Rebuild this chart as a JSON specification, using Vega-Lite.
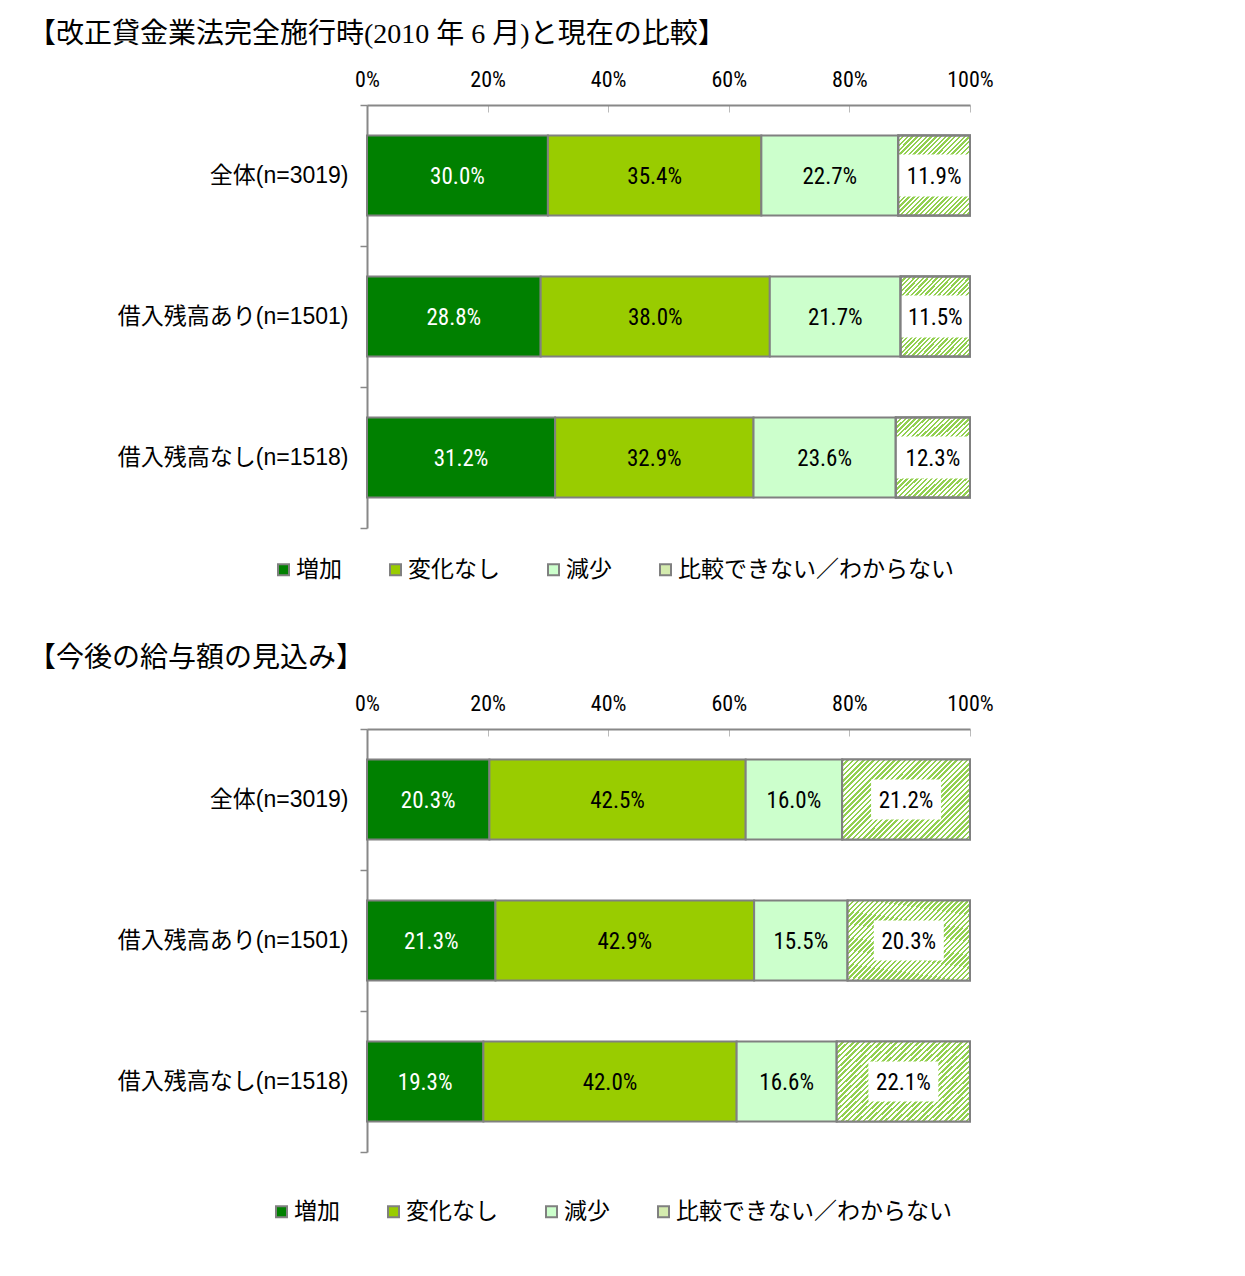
{
"$schema": "https://vega.github.io/schema/vega-lite/v6.json",
"padding": {"left": 28, "top": 21, "right": 10, "bottom": 10},
"background": "white",
"spacing": 63,
"config": {"view": {"stroke": null}, "axis": {"grid": false, "title": null}},
"resolve": {"scale": {"color": "independent"}, "legend": {"color": "independent"}},
"data": {"values": [
{"p":"A","g":"全体(n=3019)","cat":"増加","k":1,"v":30.0},
{"p":"A","g":"全体(n=3019)","cat":"変化なし","k":2,"v":35.4},
{"p":"A","g":"全体(n=3019)","cat":"減少","k":3,"v":22.7},
{"p":"A","g":"全体(n=3019)","cat":"比較できない／わからない","k":4,"v":11.9},
{"p":"A","g":"借入残高あり(n=1501)","cat":"増加","k":1,"v":28.8},
{"p":"A","g":"借入残高あり(n=1501)","cat":"変化なし","k":2,"v":38.0},
{"p":"A","g":"借入残高あり(n=1501)","cat":"減少","k":3,"v":21.7},
{"p":"A","g":"借入残高あり(n=1501)","cat":"比較できない／わからない","k":4,"v":11.5},
{"p":"A","g":"借入残高なし(n=1518)","cat":"増加","k":1,"v":31.2},
{"p":"A","g":"借入残高なし(n=1518)","cat":"変化なし","k":2,"v":32.9},
{"p":"A","g":"借入残高なし(n=1518)","cat":"減少","k":3,"v":23.6},
{"p":"A","g":"借入残高なし(n=1518)","cat":"比較できない／わからない","k":4,"v":12.3},
{"p":"B","g":"全体(n=3019)","cat":"増加","k":1,"v":20.3},
{"p":"B","g":"全体(n=3019)","cat":"変化なし","k":2,"v":42.5},
{"p":"B","g":"全体(n=3019)","cat":"減少","k":3,"v":16.0},
{"p":"B","g":"全体(n=3019)","cat":"比較できない／わからない","k":4,"v":21.2},
{"p":"B","g":"借入残高あり(n=1501)","cat":"増加","k":1,"v":21.3},
{"p":"B","g":"借入残高あり(n=1501)","cat":"変化なし","k":2,"v":42.9},
{"p":"B","g":"借入残高あり(n=1501)","cat":"減少","k":3,"v":15.5},
{"p":"B","g":"借入残高あり(n=1501)","cat":"比較できない／わからない","k":4,"v":20.3},
{"p":"B","g":"借入残高なし(n=1518)","cat":"増加","k":1,"v":19.3},
{"p":"B","g":"借入残高なし(n=1518)","cat":"変化なし","k":2,"v":42.0},
{"p":"B","g":"借入残高なし(n=1518)","cat":"減少","k":3,"v":16.6},
{"p":"B","g":"借入残高なし(n=1518)","cat":"比較できない／わからない","k":4,"v":22.1}
]},
"vconcat": [
{
"title": {"text": "【改正貸金業法完全施行時(2010 年 6 月)と現在の比較】", "anchor": "start", "frame": "group", "dx": -339, "offset": -9, "baseline": "bottom", "font": "Liberation Serif, Noto Sans CJK JP", "fontSize": 28, "fontWeight": "normal", "color": "black"},
"width": 603, "height": 423,
"transform": [
{"filter": "datum.p == 'A'"},
{"stack": "v", "groupby": ["g"], "sort": [{"field": "k", "order": "ascending"}], "as": ["v0", "v1"]},
{"calculate": "(datum.v0 + datum.v1) / 2", "as": "mid"},
{"calculate": "format(datum.v, '.1f') + '%'", "as": "lbl"}
],
"encoding": {"y": {"field": "g", "type": "nominal", "sort": ["全体(n=3019)", "借入残高あり(n=1501)", "借入残高なし(n=1518)"], "scale": {"paddingInner": 0, "paddingOuter": 0},
 "axis": {"title": null, "tickBand": "extent", "tickSize": 7, "tickColor": "#888888", "tickWidth": 1.5, "domainColor": "#888888", "domainWidth": 2, "labelFont": "Liberation Sans, Noto Sans CJK JP", "labelFontSize": 23, "labelColor": "black", "labelPadding": 12, "labelLimit": 400}}},
"layer": [
{"mark": {"type": "bar", "stroke": "#808080", "strokeWidth": 2, "height": {"band": 0.567}},
 "encoding": {
  "x": {"field": "v0", "type": "quantitative", "scale": {"domain": [0, 100], "nice": false},
   "axis": {"orient": "top", "title": null, "values": [0, 20, 40, 60, 80, 100], "labelExpr": "datum.value + '%'", "tickSize": -7, "tickColor": "#bbbbbb", "domainColor": "#888888", "domainWidth": 2, "labelPadding": 21, "labelFont": "Roboto Condensed, Liberation Sans", "labelFontSize": 22, "labelColor": "black", "labelFlush": false}},
  "x2": {"field": "v1"},
  "color": {"field": "cat", "type": "nominal", "scale": {"domain": ["増加", "変化なし", "減少", "比較できない／わからない"], "range": ["#008000", "#99cc00", "#ccffcc", "#d4ebae"]},
   "legend": {"orient": "none", "legendX": -95, "legendY": 453, "direction": "horizontal", "title": null, "symbolType": "square", "symbolSize": 121, "symbolStrokeColor": "#808080", "symbolStrokeWidth": 2, "symbolOpacity": 1, "labelFont": "Liberation Sans, Noto Sans CJK JP", "labelFontSize": 23, "labelColor": "black", "labelOffset": 1, "columnPadding": 42, "padding": 0, "labelLimit": 400}}
 }},
{"transform": [{"filter": "datum.k == 4"}],
 "mark": {"type": "bar", "stroke": "#808080", "strokeWidth": 2, "height": {"band": 0.567}, "fill": {"gradient": "linear", "x1": 0, "y1": 0, "x2": 0.945, "y2": 1.05, "stops": [
{"offset":0,"color":"#92d050"},{"offset":0.015625,"color":"#92d050"},{"offset":0.015625,"color":"#fff"},{"offset":0.03125,"color":"#fff"},
{"offset":0.03125,"color":"#92d050"},{"offset":0.046875,"color":"#92d050"},{"offset":0.046875,"color":"#fff"},{"offset":0.0625,"color":"#fff"},
{"offset":0.0625,"color":"#92d050"},{"offset":0.078125,"color":"#92d050"},{"offset":0.078125,"color":"#fff"},{"offset":0.09375,"color":"#fff"},
{"offset":0.09375,"color":"#92d050"},{"offset":0.109375,"color":"#92d050"},{"offset":0.109375,"color":"#fff"},{"offset":0.125,"color":"#fff"},
{"offset":0.125,"color":"#92d050"},{"offset":0.140625,"color":"#92d050"},{"offset":0.140625,"color":"#fff"},{"offset":0.15625,"color":"#fff"},
{"offset":0.15625,"color":"#92d050"},{"offset":0.171875,"color":"#92d050"},{"offset":0.171875,"color":"#fff"},{"offset":0.1875,"color":"#fff"},
{"offset":0.1875,"color":"#92d050"},{"offset":0.203125,"color":"#92d050"},{"offset":0.203125,"color":"#fff"},{"offset":0.21875,"color":"#fff"},
{"offset":0.21875,"color":"#92d050"},{"offset":0.234375,"color":"#92d050"},{"offset":0.234375,"color":"#fff"},{"offset":0.25,"color":"#fff"},
{"offset":0.25,"color":"#92d050"},{"offset":0.265625,"color":"#92d050"},{"offset":0.265625,"color":"#fff"},{"offset":0.28125,"color":"#fff"},
{"offset":0.28125,"color":"#92d050"},{"offset":0.296875,"color":"#92d050"},{"offset":0.296875,"color":"#fff"},{"offset":0.3125,"color":"#fff"},
{"offset":0.3125,"color":"#92d050"},{"offset":0.328125,"color":"#92d050"},{"offset":0.328125,"color":"#fff"},{"offset":0.34375,"color":"#fff"},
{"offset":0.34375,"color":"#92d050"},{"offset":0.359375,"color":"#92d050"},{"offset":0.359375,"color":"#fff"},{"offset":0.375,"color":"#fff"},
{"offset":0.375,"color":"#92d050"},{"offset":0.390625,"color":"#92d050"},{"offset":0.390625,"color":"#fff"},{"offset":0.40625,"color":"#fff"},
{"offset":0.40625,"color":"#92d050"},{"offset":0.421875,"color":"#92d050"},{"offset":0.421875,"color":"#fff"},{"offset":0.4375,"color":"#fff"},
{"offset":0.4375,"color":"#92d050"},{"offset":0.453125,"color":"#92d050"},{"offset":0.453125,"color":"#fff"},{"offset":0.46875,"color":"#fff"},
{"offset":0.46875,"color":"#92d050"},{"offset":0.484375,"color":"#92d050"},{"offset":0.484375,"color":"#fff"},{"offset":0.5,"color":"#fff"},
{"offset":0.5,"color":"#92d050"},{"offset":0.515625,"color":"#92d050"},{"offset":0.515625,"color":"#fff"},{"offset":0.53125,"color":"#fff"},
{"offset":0.53125,"color":"#92d050"},{"offset":0.546875,"color":"#92d050"},{"offset":0.546875,"color":"#fff"},{"offset":0.5625,"color":"#fff"},
{"offset":0.5625,"color":"#92d050"},{"offset":0.578125,"color":"#92d050"},{"offset":0.578125,"color":"#fff"},{"offset":0.59375,"color":"#fff"},
{"offset":0.59375,"color":"#92d050"},{"offset":0.609375,"color":"#92d050"},{"offset":0.609375,"color":"#fff"},{"offset":0.625,"color":"#fff"},
{"offset":0.625,"color":"#92d050"},{"offset":0.640625,"color":"#92d050"},{"offset":0.640625,"color":"#fff"},{"offset":0.65625,"color":"#fff"},
{"offset":0.65625,"color":"#92d050"},{"offset":0.671875,"color":"#92d050"},{"offset":0.671875,"color":"#fff"},{"offset":0.6875,"color":"#fff"},
{"offset":0.6875,"color":"#92d050"},{"offset":0.703125,"color":"#92d050"},{"offset":0.703125,"color":"#fff"},{"offset":0.71875,"color":"#fff"},
{"offset":0.71875,"color":"#92d050"},{"offset":0.734375,"color":"#92d050"},{"offset":0.734375,"color":"#fff"},{"offset":0.75,"color":"#fff"},
{"offset":0.75,"color":"#92d050"},{"offset":0.765625,"color":"#92d050"},{"offset":0.765625,"color":"#fff"},{"offset":0.78125,"color":"#fff"},
{"offset":0.78125,"color":"#92d050"},{"offset":0.796875,"color":"#92d050"},{"offset":0.796875,"color":"#fff"},{"offset":0.8125,"color":"#fff"},
{"offset":0.8125,"color":"#92d050"},{"offset":0.828125,"color":"#92d050"},{"offset":0.828125,"color":"#fff"},{"offset":0.84375,"color":"#fff"},
{"offset":0.84375,"color":"#92d050"},{"offset":0.859375,"color":"#92d050"},{"offset":0.859375,"color":"#fff"},{"offset":0.875,"color":"#fff"},
{"offset":0.875,"color":"#92d050"},{"offset":0.890625,"color":"#92d050"},{"offset":0.890625,"color":"#fff"},{"offset":0.90625,"color":"#fff"},
{"offset":0.90625,"color":"#92d050"},{"offset":0.921875,"color":"#92d050"},{"offset":0.921875,"color":"#fff"},{"offset":0.9375,"color":"#fff"},
{"offset":0.9375,"color":"#92d050"},{"offset":0.953125,"color":"#92d050"},{"offset":0.953125,"color":"#fff"},{"offset":0.96875,"color":"#fff"},
{"offset":0.96875,"color":"#92d050"},{"offset":0.984375,"color":"#92d050"},{"offset":0.984375,"color":"#fff"},{"offset":1,"color":"#fff"}
]}},
 "encoding": {"x": {"field": "v0", "type": "quantitative", "axis": {"orient": "top", "title": null, "values": [0, 20, 40, 60, 80, 100], "labelExpr": "datum.value + '%'", "tickSize": -7, "tickColor": "#bbbbbb", "domainColor": "#888888", "domainWidth": 2, "labelPadding": 21, "labelFont": "Roboto Condensed, Liberation Sans", "labelFontSize": 22, "labelColor": "black", "labelFlush": false}}, "x2": {"field": "v1"}}},
{"transform": [{"filter": "datum.k == 4"}],
 "mark": {"type": "bar", "fill": "white", "strokeWidth": 0, "height": {"band": 0.298}},
 "encoding": {"x": {"field": "v0", "type": "quantitative", "axis": {"orient": "top", "title": null, "values": [0, 20, 40, 60, 80, 100], "labelExpr": "datum.value + '%'", "tickSize": -7, "tickColor": "#bbbbbb", "domainColor": "#888888", "domainWidth": 2, "labelPadding": 21, "labelFont": "Roboto Condensed, Liberation Sans", "labelFontSize": 22, "labelColor": "black", "labelFlush": false}}, "x2": {"field": "v1"}}},
{"transform": [{"filter": "datum.k == 4"}],
 "mark": {"type": "bar", "fill": "white", "fillOpacity": 0, "stroke": "#808080", "strokeWidth": 2, "height": {"band": 0.567}},
 "encoding": {"x": {"field": "v0", "type": "quantitative", "axis": {"orient": "top", "title": null, "values": [0, 20, 40, 60, 80, 100], "labelExpr": "datum.value + '%'", "tickSize": -7, "tickColor": "#bbbbbb", "domainColor": "#888888", "domainWidth": 2, "labelPadding": 21, "labelFont": "Roboto Condensed, Liberation Sans", "labelFontSize": 22, "labelColor": "black", "labelFlush": false}}, "x2": {"field": "v1"}}},
{"mark": {"type": "text", "font": "Roboto Condensed, Liberation Sans", "fontSize": 23, "align": "center", "baseline": "middle", "dy": 1},
 "encoding": {"x": {"field": "mid", "type": "quantitative", "axis": {"orient": "top", "title": null, "values": [0, 20, 40, 60, 80, 100], "labelExpr": "datum.value + '%'", "tickSize": -7, "tickColor": "#bbbbbb", "domainColor": "#888888", "domainWidth": 2, "labelPadding": 21, "labelFont": "Roboto Condensed, Liberation Sans", "labelFontSize": 22, "labelColor": "black", "labelFlush": false}}, "text": {"field": "lbl"},
  "color": {"condition": {"test": "datum.k == 1", "value": "white"}, "value": "black"}}}
]
},
{
"title": {"text": "【今後の給与額の見込み】", "anchor": "start", "frame": "group", "dx": -339, "offset": -9, "baseline": "bottom", "font": "Liberation Serif, Noto Sans CJK JP", "fontSize": 28, "fontWeight": "normal", "color": "black"},
"width": 603, "height": 423,
"transform": [
{"filter": "datum.p == 'B'"},
{"stack": "v", "groupby": ["g"], "sort": [{"field": "k", "order": "ascending"}], "as": ["v0", "v1"]},
{"calculate": "(datum.v0 + datum.v1) / 2", "as": "mid"},
{"calculate": "format(datum.v, '.1f') + '%'", "as": "lbl"}
],
"encoding": {"y": {"field": "g", "type": "nominal", "sort": ["全体(n=3019)", "借入残高あり(n=1501)", "借入残高なし(n=1518)"], "scale": {"paddingInner": 0, "paddingOuter": 0},
 "axis": {"title": null, "tickBand": "extent", "tickSize": 7, "tickColor": "#888888", "tickWidth": 1.5, "domainColor": "#888888", "domainWidth": 2, "labelFont": "Liberation Sans, Noto Sans CJK JP", "labelFontSize": 23, "labelColor": "black", "labelPadding": 12, "labelLimit": 400}}},
"layer": [
{"mark": {"type": "bar", "stroke": "#808080", "strokeWidth": 2, "height": {"band": 0.567}},
 "encoding": {
  "x": {"field": "v0", "type": "quantitative", "scale": {"domain": [0, 100], "nice": false},
   "axis": {"orient": "top", "title": null, "values": [0, 20, 40, 60, 80, 100], "labelExpr": "datum.value + '%'", "tickSize": -7, "tickColor": "#bbbbbb", "domainColor": "#888888", "domainWidth": 2, "labelPadding": 21, "labelFont": "Roboto Condensed, Liberation Sans", "labelFontSize": 22, "labelColor": "black", "labelFlush": false}},
  "x2": {"field": "v1"},
  "color": {"field": "cat", "type": "nominal", "scale": {"domain": ["増加", "変化なし", "減少", "比較できない／わからない"], "range": ["#008000", "#99cc00", "#ccffcc", "#d4ebae"]},
   "legend": {"orient": "none", "legendX": -97, "legendY": 471, "direction": "horizontal", "title": null, "symbolType": "square", "symbolSize": 121, "symbolStrokeColor": "#808080", "symbolStrokeWidth": 2, "symbolOpacity": 1, "labelFont": "Liberation Sans, Noto Sans CJK JP", "labelFontSize": 23, "labelColor": "black", "labelOffset": 1, "columnPadding": 42, "padding": 0, "labelLimit": 400}}
 }},
{"transform": [{"filter": "datum.k == 4"}],
 "mark": {"type": "bar", "stroke": "#808080", "strokeWidth": 2, "height": {"band": 0.567}, "fill": {"gradient": "linear", "x1": 0, "y1": 0, "x2": 1.1685, "y2": 0.7303, "stops": [
{"offset":0,"color":"#92d050"},{"offset":0.0125,"color":"#92d050"},{"offset":0.0125,"color":"#fff"},{"offset":0.025,"color":"#fff"},
{"offset":0.025,"color":"#92d050"},{"offset":0.0375,"color":"#92d050"},{"offset":0.0375,"color":"#fff"},{"offset":0.05,"color":"#fff"},
{"offset":0.05,"color":"#92d050"},{"offset":0.0625,"color":"#92d050"},{"offset":0.0625,"color":"#fff"},{"offset":0.075,"color":"#fff"},
{"offset":0.075,"color":"#92d050"},{"offset":0.0875,"color":"#92d050"},{"offset":0.0875,"color":"#fff"},{"offset":0.1,"color":"#fff"},
{"offset":0.1,"color":"#92d050"},{"offset":0.1125,"color":"#92d050"},{"offset":0.1125,"color":"#fff"},{"offset":0.125,"color":"#fff"},
{"offset":0.125,"color":"#92d050"},{"offset":0.1375,"color":"#92d050"},{"offset":0.1375,"color":"#fff"},{"offset":0.15,"color":"#fff"},
{"offset":0.15,"color":"#92d050"},{"offset":0.1625,"color":"#92d050"},{"offset":0.1625,"color":"#fff"},{"offset":0.175,"color":"#fff"},
{"offset":0.175,"color":"#92d050"},{"offset":0.1875,"color":"#92d050"},{"offset":0.1875,"color":"#fff"},{"offset":0.2,"color":"#fff"},
{"offset":0.2,"color":"#92d050"},{"offset":0.2125,"color":"#92d050"},{"offset":0.2125,"color":"#fff"},{"offset":0.225,"color":"#fff"},
{"offset":0.225,"color":"#92d050"},{"offset":0.2375,"color":"#92d050"},{"offset":0.2375,"color":"#fff"},{"offset":0.25,"color":"#fff"},
{"offset":0.25,"color":"#92d050"},{"offset":0.2625,"color":"#92d050"},{"offset":0.2625,"color":"#fff"},{"offset":0.275,"color":"#fff"},
{"offset":0.275,"color":"#92d050"},{"offset":0.2875,"color":"#92d050"},{"offset":0.2875,"color":"#fff"},{"offset":0.3,"color":"#fff"},
{"offset":0.3,"color":"#92d050"},{"offset":0.3125,"color":"#92d050"},{"offset":0.3125,"color":"#fff"},{"offset":0.325,"color":"#fff"},
{"offset":0.325,"color":"#92d050"},{"offset":0.3375,"color":"#92d050"},{"offset":0.3375,"color":"#fff"},{"offset":0.35,"color":"#fff"},
{"offset":0.35,"color":"#92d050"},{"offset":0.3625,"color":"#92d050"},{"offset":0.3625,"color":"#fff"},{"offset":0.375,"color":"#fff"},
{"offset":0.375,"color":"#92d050"},{"offset":0.3875,"color":"#92d050"},{"offset":0.3875,"color":"#fff"},{"offset":0.4,"color":"#fff"},
{"offset":0.4,"color":"#92d050"},{"offset":0.4125,"color":"#92d050"},{"offset":0.4125,"color":"#fff"},{"offset":0.425,"color":"#fff"},
{"offset":0.425,"color":"#92d050"},{"offset":0.4375,"color":"#92d050"},{"offset":0.4375,"color":"#fff"},{"offset":0.45,"color":"#fff"},
{"offset":0.45,"color":"#92d050"},{"offset":0.4625,"color":"#92d050"},{"offset":0.4625,"color":"#fff"},{"offset":0.475,"color":"#fff"},
{"offset":0.475,"color":"#92d050"},{"offset":0.4875,"color":"#92d050"},{"offset":0.4875,"color":"#fff"},{"offset":0.5,"color":"#fff"},
{"offset":0.5,"color":"#92d050"},{"offset":0.5125,"color":"#92d050"},{"offset":0.5125,"color":"#fff"},{"offset":0.525,"color":"#fff"},
{"offset":0.525,"color":"#92d050"},{"offset":0.5375,"color":"#92d050"},{"offset":0.5375,"color":"#fff"},{"offset":0.55,"color":"#fff"},
{"offset":0.55,"color":"#92d050"},{"offset":0.5625,"color":"#92d050"},{"offset":0.5625,"color":"#fff"},{"offset":0.575,"color":"#fff"},
{"offset":0.575,"color":"#92d050"},{"offset":0.5875,"color":"#92d050"},{"offset":0.5875,"color":"#fff"},{"offset":0.6,"color":"#fff"},
{"offset":0.6,"color":"#92d050"},{"offset":0.6125,"color":"#92d050"},{"offset":0.6125,"color":"#fff"},{"offset":0.625,"color":"#fff"},
{"offset":0.625,"color":"#92d050"},{"offset":0.6375,"color":"#92d050"},{"offset":0.6375,"color":"#fff"},{"offset":0.65,"color":"#fff"},
{"offset":0.65,"color":"#92d050"},{"offset":0.6625,"color":"#92d050"},{"offset":0.6625,"color":"#fff"},{"offset":0.675,"color":"#fff"},
{"offset":0.675,"color":"#92d050"},{"offset":0.6875,"color":"#92d050"},{"offset":0.6875,"color":"#fff"},{"offset":0.7,"color":"#fff"},
{"offset":0.7,"color":"#92d050"},{"offset":0.7125,"color":"#92d050"},{"offset":0.7125,"color":"#fff"},{"offset":0.725,"color":"#fff"},
{"offset":0.725,"color":"#92d050"},{"offset":0.7375,"color":"#92d050"},{"offset":0.7375,"color":"#fff"},{"offset":0.75,"color":"#fff"},
{"offset":0.75,"color":"#92d050"},{"offset":0.7625,"color":"#92d050"},{"offset":0.7625,"color":"#fff"},{"offset":0.775,"color":"#fff"},
{"offset":0.775,"color":"#92d050"},{"offset":0.7875,"color":"#92d050"},{"offset":0.7875,"color":"#fff"},{"offset":0.8,"color":"#fff"},
{"offset":0.8,"color":"#92d050"},{"offset":0.8125,"color":"#92d050"},{"offset":0.8125,"color":"#fff"},{"offset":0.825,"color":"#fff"},
{"offset":0.825,"color":"#92d050"},{"offset":0.8375,"color":"#92d050"},{"offset":0.8375,"color":"#fff"},{"offset":0.85,"color":"#fff"},
{"offset":0.85,"color":"#92d050"},{"offset":0.8625,"color":"#92d050"},{"offset":0.8625,"color":"#fff"},{"offset":0.875,"color":"#fff"},
{"offset":0.875,"color":"#92d050"},{"offset":0.8875,"color":"#92d050"},{"offset":0.8875,"color":"#fff"},{"offset":0.9,"color":"#fff"},
{"offset":0.9,"color":"#92d050"},{"offset":0.9125,"color":"#92d050"},{"offset":0.9125,"color":"#fff"},{"offset":0.925,"color":"#fff"},
{"offset":0.925,"color":"#92d050"},{"offset":0.9375,"color":"#92d050"},{"offset":0.9375,"color":"#fff"},{"offset":0.95,"color":"#fff"},
{"offset":0.95,"color":"#92d050"},{"offset":0.9625,"color":"#92d050"},{"offset":0.9625,"color":"#fff"},{"offset":0.975,"color":"#fff"},
{"offset":0.975,"color":"#92d050"},{"offset":0.9875,"color":"#92d050"},{"offset":0.9875,"color":"#fff"},{"offset":1,"color":"#fff"}
]}},
 "encoding": {"x": {"field": "v0", "type": "quantitative", "axis": {"orient": "top", "title": null, "values": [0, 20, 40, 60, 80, 100], "labelExpr": "datum.value + '%'", "tickSize": -7, "tickColor": "#bbbbbb", "domainColor": "#888888", "domainWidth": 2, "labelPadding": 21, "labelFont": "Roboto Condensed, Liberation Sans", "labelFontSize": 22, "labelColor": "black", "labelFlush": false}}, "x2": {"field": "v1"}}},
{"transform": [{"filter": "datum.k == 4"}],
 "mark": {"type": "point", "shape": "M-1,-0.571H1V0.571H-1Z", "size": 4900, "filled": true, "fill": "white", "opacity": 1, "strokeWidth": 0},
 "encoding": {"x": {"field": "mid", "type": "quantitative", "axis": {"orient": "top", "title": null, "values": [0, 20, 40, 60, 80, 100], "labelExpr": "datum.value + '%'", "tickSize": -7, "tickColor": "#bbbbbb", "domainColor": "#888888", "domainWidth": 2, "labelPadding": 21, "labelFont": "Roboto Condensed, Liberation Sans", "labelFontSize": 22, "labelColor": "black", "labelFlush": false}}}},
{"mark": {"type": "text", "font": "Roboto Condensed, Liberation Sans", "fontSize": 23, "align": "center", "baseline": "middle", "dy": 1},
 "encoding": {"x": {"field": "mid", "type": "quantitative", "axis": {"orient": "top", "title": null, "values": [0, 20, 40, 60, 80, 100], "labelExpr": "datum.value + '%'", "tickSize": -7, "tickColor": "#bbbbbb", "domainColor": "#888888", "domainWidth": 2, "labelPadding": 21, "labelFont": "Roboto Condensed, Liberation Sans", "labelFontSize": 22, "labelColor": "black", "labelFlush": false}}, "text": {"field": "lbl"},
  "color": {"condition": {"test": "datum.k == 1", "value": "white"}, "value": "black"}}}
]
}
]
}
